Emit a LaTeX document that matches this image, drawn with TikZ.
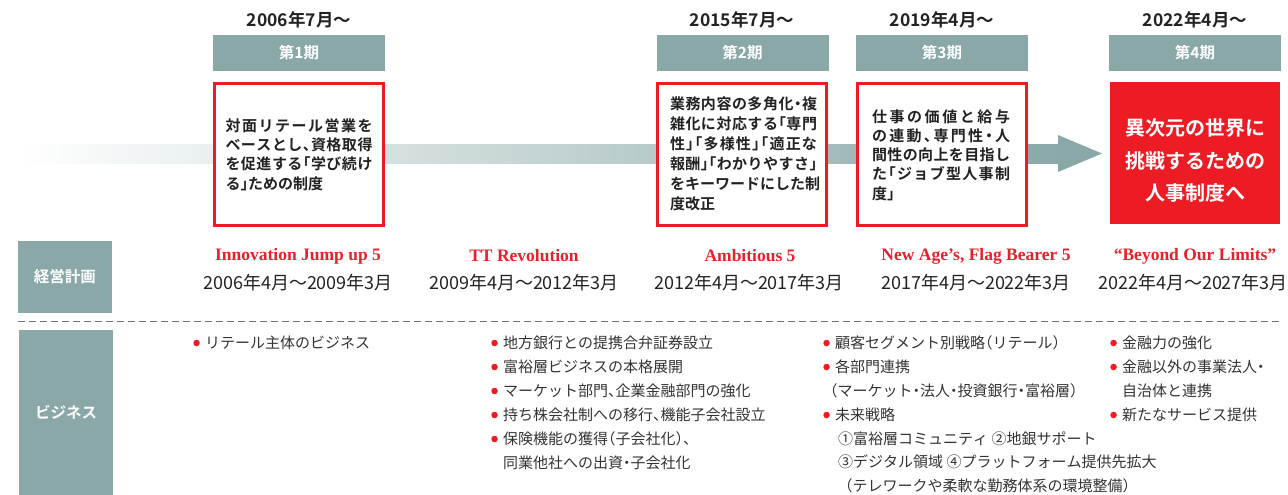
\documentclass[tikz,border=0pt]{standalone}
\usepackage{fontspec}
\setmainfont{Noto Sans CJK JP}[BoldFont=Noto Sans CJK JP Bold,RawFeature=+halt]
\newfontfamily\planfont{Liberation Serif}[BoldFont=Liberation Serif Bold]
\definecolor{tealgrey}{HTML}{8AA8A8}
\definecolor{kred}{HTML}{ED1C24}
\definecolor{planred}{HTML}{E8202A}
\definecolor{ink}{HTML}{222222}
\definecolor{ink2}{HTML}{333333}
\definecolor{sepgrey}{HTML}{707070}
% stretchable glue between CJK characters (for justified lines)
\newcount\cjkn
\def\setcjkrange#1#2{\cjkn=#1\relax\loop\XeTeXcharclass\cjkn=10\relax\advance\cjkn by 1\relax\ifnum\cjkn<#2\repeat}
\setcjkrange{"3000}{"3100}
\setcjkrange{"4E00}{"A000}
\setcjkrange{"FF00}{"FFF0}
\XeTeXinterchartoks 10 10 = {\hskip 0pt plus 4pt\relax}
\XeTeXinterchartokenstate=1
\newcommand\jline[2]{\makebox[#1pt][s]{#2}}
\newcommand\jlast[2]{\makebox[#1pt][l]{#2}}
\begin{document}
\begin{tikzpicture}[x=1pt,y=-1pt,
 topdate/.style={font=\bfseries\fontsize{17.5}{20}\selectfont,text=ink,inner sep=0},
 phase/.style={fill=tealgrey,minimum width=172pt,minimum height=36pt,inner sep=0,text=white,font=\bfseries\fontsize{15.5}{18}\selectfont},
 descbox/.style={draw=kred,line width=2.6pt,fill=white,minimum width=169pt,minimum height=142.5pt,inner sep=0},
 desctext/.style={align=left,inner sep=0,text=ink,font=\bfseries\fontsize{15}{19.3}\selectfont},
 goalbox/.style={fill=kred,minimum width=170pt,minimum height=142pt,inner sep=0},
 goaltext/.style={align=center,inner sep=0,text=white,font=\bfseries\fontsize{20}{32.5}\selectfont},
 rowhead/.style={fill=tealgrey,minimum width=94pt,inner sep=0,text=white,font=\bfseries\fontsize{15.5}{18}\selectfont},
 planname/.style={inner sep=0,text=planred,font=\planfont\bfseries\fontsize{17.5}{20}\selectfont},
 planterm/.style={inner sep=0,text=ink,font=\fontsize{18}{21}\selectfont},
 bline/.style={anchor=west,inner sep=0,text=ink2,font=\fontsize{15}{18}\selectfont},
 bul/.style={bline,label={[circle,fill=kred,inner sep=0,minimum size=6.5pt,xshift=-5pt]left:{}}},
 sepline/.style={draw=sepgrey,line width=1.1pt,dash pattern=on 7pt off 4pt}
]
\useasboundingbox (0,0) rectangle (1288,495);

% timeline bar and arrow head
\shade[left color=white,right color=tealgrey] (20,144) rectangle (1060,163);
\fill[tealgrey] (1058,135) -- (1102,153.5) -- (1058,172) -- cycle;

% start dates
\node[topdate] (d1) at (299,20) {2006年7月～};
\node[topdate] (d2) at (742,20) {2015年7月～};
\node[topdate] (d3) at (942,20) {2019年4月～};
\node[topdate] (d4) at (1195,20) {2022年4月～};

% phase headers
\node[phase] (h1) at (299,53) {第1期};
\node[phase] (h2) at (742.5,53) {第2期};
\node[phase] (h3) at (942,53) {第3期};
\node[phase] (h4) at (1195,53) {第4期};

% description boxes
\node[descbox] (b1) at (299,154.5) {};
\node[descbox] (b2) at (742,154.5) {};
\node[descbox] (b3) at (942,154.5) {};
\node[goalbox] (b4) at (1195,153) {};

\node[desctext] (t1) at (b1.center) {\jline{147}{対面リテール営業を}\\\jline{147}{ベースとし、資格取得}\\\jline{147}{を促進する「学び続け}\\\jlast{147}{る」ための制度}};
\node[desctext,font=\bfseries\fontsize{15}{20}\selectfont] (t2) at (743.5,154) {\jline{147}{業務内容の多角化・複}\\\jline{147}{雑化に対応する「専門}\\\jline{147}{性」「多様性」「適正な}\\\jline{147}{報酬」「わかりやすさ」}\\\jline{147}{をキーワードにした制}\\\jlast{147}{度改正}};
\node[desctext,font=\bfseries\fontsize{15}{19.2}\selectfont] (t3) at (941,155) {\jline{138}{仕事の価値と給与}\\\jline{138}{の連動、専門性・人}\\\jline{138}{間性の向上を目指し}\\\jline{138}{た「ジョブ型人事制}\\\jlast{138}{度」}};
\node[goaltext] (t4) at (1195,160.5) {異次元の世界に\\挑戦するための\\人事制度へ};

% management plans
\node[rowhead,minimum height=72pt] (k1) at (65,277) {経営計画};
\node[planname] (p1) at (298,256) {Innovation Jump up 5};
\node[planname] (p2) at (524,256) {TT Revolution};
\node[planname] (p3) at (750,256) {Ambitious 5};
\node[planname] (p4) at (976,256) {New Age’s, Flag Bearer 5};
\node[planname] (p5) at (1195,256) {“Beyond Our Limits”};
\node[planterm] (q1) at (298,283) {2006年4月～2009年3月};
\node[planterm] (q2) at (524,283) {2009年4月～2012年3月};
\node[planterm] (q3) at (749,283) {2012年4月～2017年3月};
\node[planterm] (q4) at (976,283) {2017年4月～2022年3月};
\node[planterm] (q5) at (1193,283) {2022年4月～2027年3月};

% separator
\coordinate (dashL) at (18,321.5);
\coordinate (dashR) at (1281,321.5);
\draw[sepline] (dashL) -- (dashR);

% business
\node[rowhead,minimum height=165pt] (k2) at (66,412.5) {ビジネス};

\node[bul] (a1) at (205,343) {リテール主体のビジネス};

\node[bul] (c1) at (503,343) {地方銀行との提携合弁証券設立};
\node[bul] (c2) at (503,367) {富裕層ビジネスの本格展開};
\node[bul] (c3) at (503,391) {マーケット部門、企業金融部門の強化};
\node[bul] (c4) at (503,415) {持ち株会社制への移行、機能子会社設立};
\node[bul] (c5) at (503,439) {保険機能の獲得（子会社化）、};
\node[bline] (c6) at (503,463) {同業他社への出資・子会社化};

\node[bul] (e1) at (835,343) {顧客セグメント別戦略（リテール）};
\node[bul] (e2) at (835,367) {各部門連携};
\node[bline] (e3) at (830,391) {（マーケット・法人・投資銀行・富裕層）};
\node[bul] (e4) at (835,415) {未来戦略};
\node[bline] (e5) at (838,439) {①富裕層コミュニティ ②地銀サポート};
\node[bline] (e6) at (838,462) {③デジタル領域 ④プラットフォーム提供先拡大};
\node[bline] (e7) at (845,486) {（テレワークや柔軟な勤務体系の環境整備）};

\node[bul] (g1) at (1122,343) {金融力の強化};
\node[bul] (g2) at (1122,367) {金融以外の事業法人・};
\node[bline] (g3) at (1122,391) {自治体と連携};
\node[bul] (g4) at (1122,415) {新たなサービス提供};
\end{tikzpicture}
\end{document}
